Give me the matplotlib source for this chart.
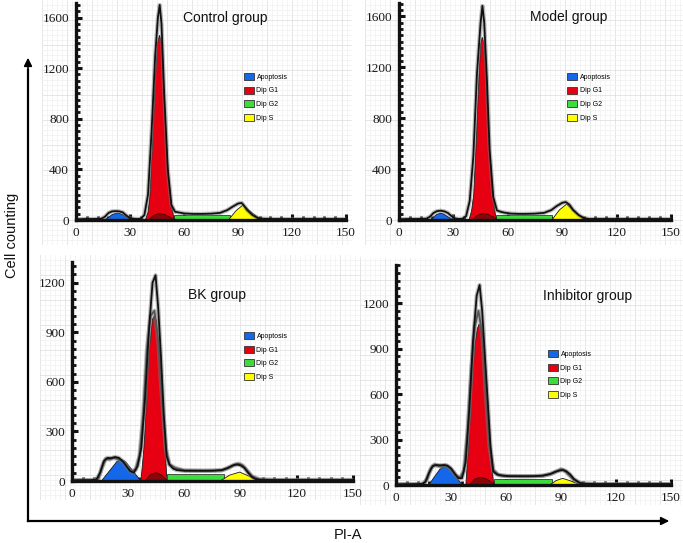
import matplotlib
matplotlib.use("Agg")
import matplotlib.pyplot as plt
from matplotlib.patches import Patch
from matplotlib.ticker import MultipleLocator
import numpy as np

W, H = 683, 543

# ---------------- shared ----------------
phases = ["Apoptosis", "Dip G1", "Dip G2", "Dip S"]
phase_colors = ["#1467e8", "#e60012", "#3ddc3d", "#ffff00"]
tail_color = "#7a0808"
x_ticks = [0, 30, 60, 90, 120, 150]

# ---------------- Control group ----------------
C_title = "Control group"
C_yticks = [0, 400, 800, 1200, 1600]
C_apo_x = [15.7, 18, 20, 22, 23, 24, 26, 28, 31.1]
C_apo_y = [0, 20, 42, 52, 53, 52, 42, 22, 0]
C_g1_x = [38.5, 40, 41, 42.5, 44, 45.3, 46.4, 47.5, 48.5, 50, 51.5, 53, 54.6]
C_g1_y = [0, 60, 180, 600, 1100, 1400, 1460, 1400, 1100, 650, 330, 120, 0]
C_g2_x = [54.6, 54.6, 85.3, 85.3]
C_g2_y = [0, 36, 36, 0]
C_s_x = [84.7, 89, 93, 97, 103.2]
C_s_y = [0, 75, 121, 65, 0]
C_tail_x = [40, 43, 46, 49, 52, 55]
C_tail_y = [0, 35, 50, 45, 25, 0]
C_line_x = [0, 5, 10, 14, 16, 18, 20, 22, 24, 26, 28, 30, 32, 34, 36, 38, 40, 42, 44, 45.5,
            46.5, 47.5, 49, 51, 53, 55, 57, 60, 65, 70, 75, 80, 84, 87, 90, 92, 93, 95, 98, 101,
            104, 110, 120, 130, 140, 150]
C_line_y = [5, 8, 8, 10, 25, 55, 68, 70, 68, 60, 35, 15, 10, 8, 10, 40, 200, 700, 1300, 1600,
            1700, 1550, 1000, 400, 120, 65, 60, 52, 48, 48, 50, 56, 78, 105, 130, 135, 120, 80, 40, 15,
            10, 8, 8, 8, 8, 8]

# ---------------- Model group ----------------
M_title = "Model group"
M_yticks = [0, 400, 800, 1200, 1600]
M_apo_x = [17.6, 19.5, 21, 22.8, 24.5, 27, 30.1]
M_apo_y = [0, 28, 45, 52, 48, 25, 0]
M_g1_x = [38.6, 40, 41.2, 42.6, 44, 45, 45.9, 47, 48, 49.5, 51, 52.5, 53.6]
M_g1_y = [0, 70, 200, 620, 1100, 1380, 1436, 1380, 1100, 650, 320, 110, 0]
M_g2_x = [53.6, 53.6, 84.3, 84.3]
M_g2_y = [0, 36, 36, 0]
M_s_x = [84.3, 88.5, 92.5, 96.5, 102.3]
M_s_y = [0, 80, 125, 68, 0]
M_tail_x = [40, 43, 46, 49, 52, 54]
M_tail_y = [0, 35, 50, 45, 25, 0]
M_line_x = [0, 5, 10, 15, 17, 19, 21, 23, 25, 27, 29, 31, 33, 35, 37, 39, 41, 43, 45, 46,
            47, 48.5, 50, 52, 54, 56, 58, 62, 66, 70, 75, 80, 84, 87, 90, 92, 94, 96, 99, 102,
            105, 110, 120, 130, 140, 150]
M_line_y = [5, 8, 8, 10, 25, 55, 70, 73, 68, 55, 30, 12, 8, 10, 30, 150, 500, 1150, 1550, 1683,
            1550, 1100, 550, 180, 75, 65, 58, 50, 48, 48, 50, 56, 78, 110, 135, 141, 120, 80, 40, 15,
            8, 8, 8, 8, 8, 8]

# ---------------- BK group ----------------
B_title = "BK group"
B_yticks = [0, 300, 600, 900, 1200]
B_apo_x = [15.7, 24, 26.2, 28.5, 36.8]
B_apo_y = [0, 118, 131, 118, 0]
B_g1_x = [36.8, 38.3, 39.2, 40, 41.5, 43, 44, 45, 46.5, 48, 49, 49.8, 50.7]
B_g1_y = [0, 186, 350, 589, 830, 980, 1002, 970, 800, 589, 350, 186, 0]
B_g2_x = [50.7, 50.7, 81, 81]
B_g2_y = [0, 42, 42, 0]
B_s_x = [79.2, 84, 89.5, 94, 99.7]
B_s_y = [0, 35, 54, 32, 0]
B_tail_x = [39, 42, 45, 48, 51]
B_tail_y = [0, 40, 50, 35, 0]
B_line_x = [0, 5, 10, 13, 15, 17, 19, 21, 23, 25, 27, 29, 31, 33, 35, 37, 39, 41, 43, 44.6,
            46, 47.5, 49, 50.5, 52, 54, 56, 60, 65, 70, 75, 80, 83, 86, 88, 90, 92, 94, 96, 98,
            100, 105, 110, 120, 130, 140, 150]
B_line_y = [3, 5, 5, 8, 50, 120, 140, 138, 145, 140, 120, 90, 60, 50, 90, 200, 500, 900, 1200, 1245,
            1050, 750, 400, 150, 100, 75, 66, 62, 62, 62, 62, 66, 78, 95, 100, 95, 80, 50, 25, 12,
            8, 6, 6, 6, 6, 6, 6]
B_line2_x = [0, 10, 14, 16, 18, 20, 22, 24, 26, 28, 30, 32, 34, 36, 38, 40, 42, 44, 46, 48,
             50, 52, 55, 60, 70, 80, 84, 87, 89, 91, 93, 96, 100, 110, 150]
B_line2_y = [5, 5, 10, 80, 135, 130, 140, 135, 125, 110, 80, 60, 70, 150, 400, 800, 1000, 1030, 850, 500,
             200, 100, 80, 64, 62, 64, 82, 100, 105, 95, 70, 30, 10, 6, 6]

# ---------------- Inhibitor group ----------------
I_title = "Inhibitor group"
I_yticks = [0, 300, 600, 900, 1200]
I_apo_x = [17.9, 21, 24, 26.8, 29.5, 32.5, 36.3]
I_apo_y = [0, 55, 105, 121, 105, 55, 0]
I_g1_x = [38.1, 39.4, 40.3, 41.3, 42.8, 44.3, 45.3, 46.3, 47.8, 49.2, 50.4, 51.6, 53.3]
I_g1_y = [0, 231, 420, 671, 900, 1030, 1063, 1030, 900, 671, 420, 231, 0]
I_g2_x = [53.3, 53.3, 85, 85]
I_g2_y = [0, 40, 40, 0]
I_s_x = [83.8, 87.5, 90.9, 95, 100.8]
I_s_y = [0, 30, 44, 28, 0]
I_tail_x = [40, 43, 46, 49, 52, 54]
I_tail_y = [0, 40, 50, 42, 20, 0]
I_line_x = [0, 5, 10, 14, 16, 18, 20, 22, 24, 26, 28, 30, 32, 34, 36, 38, 40, 42, 44, 45.6,
            47, 48.5, 50, 51.5, 53, 55, 58, 62, 66, 70, 75, 80, 84, 87, 89, 91, 93, 95, 97, 100,
            103, 110, 120, 130, 140, 150]
I_line_y = [3, 5, 5, 6, 20, 80, 125, 132, 130, 132, 128, 110, 75, 45, 45, 150, 500, 950, 1250, 1321,
            1150, 850, 560, 260, 90, 70, 62, 58, 58, 58, 58, 62, 72, 88, 95, 99, 90, 70, 40, 15,
            8, 6, 6, 6, 6, 6]
I_line2_x = [0, 10, 15, 17, 19, 21, 23, 25, 27, 29, 31, 33, 35, 37, 39, 41, 43, 45, 47, 49,
             51, 53, 56, 60, 70, 80, 85, 88, 90, 92, 94, 97, 101, 110, 150]
I_line2_y = [5, 5, 8, 40, 110, 135, 125, 120, 130, 115, 90, 60, 50, 90, 350, 750, 1050, 1150, 1000, 600,
             250, 100, 65, 60, 58, 60, 75, 92, 105, 95, 70, 35, 10, 6, 6]

# ---------------- layout (pixels) ----------------
panels = [
    dict(title=C_title, yt=C_yticks, apo=(C_apo_x, C_apo_y), g1=(C_g1_x, C_g1_y), g2=(C_g2_x, C_g2_y),
         s=(C_s_x, C_s_y), tail=(C_tail_x, C_tail_y), lines=[(C_line_x, C_line_y)],
         rect=(76, 3, 346, 220), ymax=1715, bg=(42, 0, 352, 245),
         title_xy=(225, 18), leg_xy=(244, 73)),
    dict(title=M_title, yt=M_yticks, apo=(M_apo_x, M_apo_y), g1=(M_g1_x, M_g1_y), g2=(M_g2_x, M_g2_y),
         s=(M_s_x, M_s_y), tail=(M_tail_x, M_tail_y), lines=[(M_line_x, M_line_y)],
         rect=(399, 3, 671, 220), ymax=1705, bg=(365, 0, 683, 245),
         title_xy=(569, 17), leg_xy=(567, 73)),
    dict(title=B_title, yt=B_yticks, apo=(B_apo_x, B_apo_y), g1=(B_g1_x, B_g1_y), g2=(B_g2_x, B_g2_y),
         s=(B_s_x, B_s_y), tail=(B_tail_x, B_tail_y), lines=[(B_line2_x, B_line2_y), (B_line_x, B_line_y)],
         rect=(72, 262, 353, 481), ymax=1325, bg=(40, 255, 362, 500),
         title_xy=(217, 295), leg_xy=(244, 332)),
    dict(title=I_title, yt=I_yticks, apo=(I_apo_x, I_apo_y), g1=(I_g1_x, I_g1_y), g2=(I_g2_x, I_g2_y),
         s=(I_s_x, I_s_y), tail=(I_tail_x, I_tail_y), lines=[(I_line2_x, I_line2_y), (I_line_x, I_line_y)],
         rect=(396, 265, 671, 485), ymax=1453, bg=(360, 258, 683, 505),
         title_xy=(588, 296), leg_xy=(548, 350)),
]

fig = plt.figure(figsize=(W / 100, H / 100), dpi=100)
fig.patch.set_facecolor("white")


def frac(rect):
    l, t, r, b = rect
    return [l / W, 1 - b / H, (r - l) / W, (b - t) / H]


# graph-paper backgrounds
for p in panels:
    bg = fig.add_axes(frac(p["bg"]), zorder=0)
    l, t, r, b = p["bg"]
    bg.set_xlim(0, r - l)
    bg.set_ylim(0, b - t)
    for v in np.arange(0, r - l, 5):
        bg.axvline(v, color="#dcdcdc" if v % 25 == 0 else "#f0f0f0", lw=0.5)
    for v in np.arange(0, b - t, 5):
        bg.axhline(v, color="#dcdcdc" if v % 25 == 0 else "#f0f0f0", lw=0.5)
    bg.axis("off")

over = fig.add_axes([0, 0, 1, 1], zorder=5)
over.set_xlim(0, W)
over.set_ylim(H, 0)
over.axis("off")
over.patch.set_alpha(0)

for p in panels:
    ax = fig.add_axes(frac(p["rect"]), zorder=2)
    ax.patch.set_alpha(0)
    ax.set_xlim(0, 150)
    ax.set_ylim(0, p["ymax"])
    ec = "#1a1a1a"
    ax.fill(*p["apo"], color=phase_colors[0], ec=ec, lw=0.6, zorder=2)
    ax.fill(*p["g1"], color=phase_colors[1], ec=ec, lw=0.6, zorder=2)
    ax.fill(*p["g2"], color=phase_colors[2], ec=ec, lw=0.5, zorder=2)
    ax.fill(*p["s"], color=phase_colors[3], ec=ec, lw=0.6, zorder=2)
    ax.fill(*p["tail"], color=tail_color, ec="#3a0000", lw=0.6, alpha=0.85, zorder=3)
    for i, (lx, ly) in enumerate(p["lines"]):
        ax.plot(lx, ly, color="#777777", lw=3.0, alpha=0.5, zorder=4, solid_joinstyle="round")
        ax.plot(lx, ly, color="#111111" if i == len(p["lines"]) - 1 else "#555555",
                lw=1.3, zorder=5, solid_joinstyle="round")

    for s in ["top", "right"]:
        ax.spines[s].set_visible(False)
    for s in ["left", "bottom"]:
        ax.spines[s].set_linewidth(2.4)
        ax.spines[s].set_color("#111111")
        ax.spines[s].set_zorder(6)
    ax.set_xticks(x_ticks)
    ax.set_xticklabels([str(v) for v in x_ticks])
    ax.set_yticks(p["yt"])
    ax.set_yticklabels([str(v) for v in p["yt"]])
    ax.xaxis.set_minor_locator(MultipleLocator(6))
    ax.yaxis.set_minor_locator(MultipleLocator(50))
    ax.tick_params(which="major", direction="in", length=4, width=2.2, color="#111111",
                   labelsize=9.5, pad=5)
    ax.tick_params(which="minor", direction="in", length=3, width=2.0, color="#111111")
    for lab in ax.get_xticklabels() + ax.get_yticklabels():
        lab.set_fontfamily("Liberation Serif")
        lab.set_color("#1a1a1a")

    over.text(*p["title_xy"], p["title"], ha="center", va="center", fontsize=10,
              family="Liberation Sans", color="#111111")
    handles = [Patch(facecolor=c, edgecolor="#333333", lw=0.6) for c in phase_colors]
    leg = ax.legend(handles, phases, loc="upper left", bbox_to_anchor=p["leg_xy"],
                    bbox_transform=over.transData, frameon=False,
                    handlelength=1.45, handleheight=1.15, handletextpad=0.35,
                    labelspacing=0.85, borderpad=0, borderaxespad=0,
                    prop={"family": "Liberation Sans", "size": 5})

# big axis arrows
over.plot([28, 28], [521, 70], color="black", lw=1.6, solid_capstyle="projecting")
over.plot([28, 660], [521, 521], color="black", lw=1.6, solid_capstyle="projecting")
over.annotate("", xy=(28, 55), xytext=(28, 72),
              arrowprops=dict(arrowstyle="-|>", color="black", lw=1.2, mutation_scale=12))
over.annotate("", xy=(672, 521), xytext=(656, 521),
              arrowprops=dict(arrowstyle="-|>", color="black", lw=1.2, mutation_scale=12))
over.text(12, 235, "Cell counting", rotation=90, ha="center", va="center", fontsize=10.5,
          family="Liberation Sans", color="#111111")
over.text(348, 535, "PI-A", ha="center", va="center", fontsize=10.5,
          family="Liberation Sans", color="#111111")

fig.savefig("out.png", dpi=100, facecolor="white")
